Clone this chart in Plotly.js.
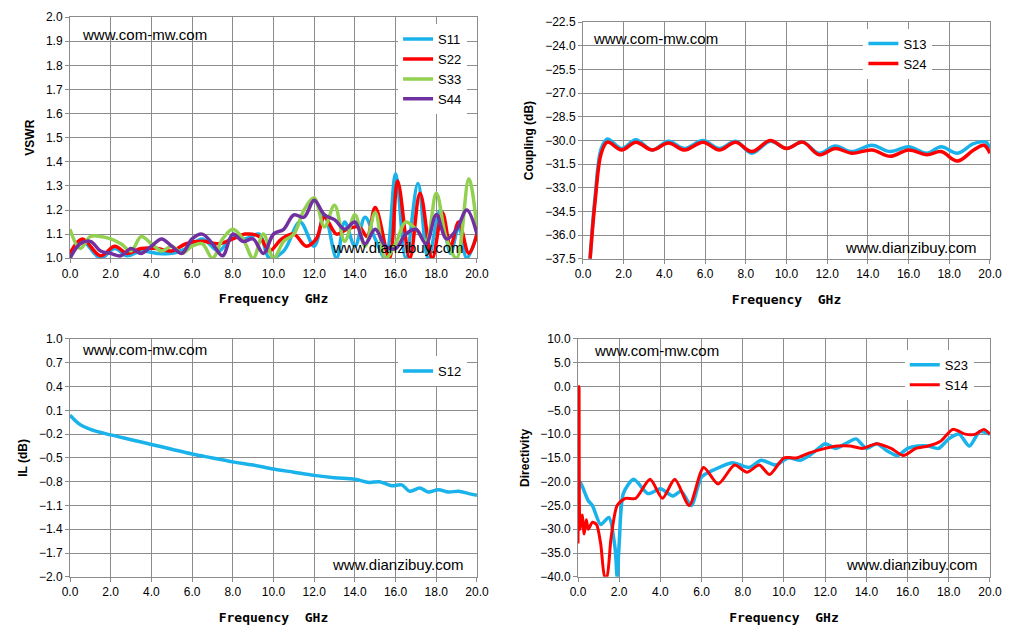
<!DOCTYPE html>
<html><head><meta charset="utf-8">
<script src="https://cdn.plot.ly/plotly-3.0.1.min.js"></script>
<style>body{margin:0}#plot{width:1034px;height:636px}</style>
</head><body><div id="plot"></div>
<script>
// VSWR panel
var s11X = [0,0.6,1.5,2.2,2.8,3.5,4.3,5,5.7,6.5,7.3,8,8.6,9.3,9.8,10.5,11.3,12,12.5,13.1,13.5,14,14.5,15,15.5,16,16.5,17.1,17.6,18.2,18.7,19.1,19.5,20];
var s11Y = [1.0,1.07,1.0,1.04,1.01,1.03,1.02,1.02,1.04,1.08,1.03,1.09,1.08,1.1,1.0,1.03,1.15,1.05,1.18,1.0,1.15,1.05,1.17,1.08,1.0,1.35,1.0,1.31,1.0,1.2,1.02,1.13,1.0,1.1];
var s22X = [0,0.6,1.5,2.2,2.8,3.5,4.3,5,5.7,6.5,7.3,8,8.6,9.3,9.8,10.4,11,11.6,12.1,12.5,13.1,13.6,14.2,14.6,15.0,15.7,16.1,16.7,17.2,17.8,18.3,18.7,19.1,19.6,20];
var s22Y = [1.02,1.08,1.01,1.05,1.02,1.04,1.04,1.03,1.06,1.07,1.06,1.08,1.1,1.09,1.03,1.08,1.1,1.05,1.08,1.17,1.1,1.12,1.13,1.09,1.21,1.0,1.32,1.0,1.27,1.0,1.19,1.05,1.15,1.02,1.1];
var s33X = [0,0.5,1,1.5,2,2.5,3,3.5,4,4.5,5,5.5,6,6.5,7,7.5,8,8.5,9,9.5,10,10.5,11,11.5,12,12.5,13,13.5,14,14.5,15,15.5,16,16.5,17,17.5,18,18.5,19,19.6,20];
var s33Y = [1.12,1.04,1.09,1.09,1.08,1.06,1.03,1.09,1.06,1.03,1.05,1.02,1.05,1.06,1.0,1.08,1.12,1.08,1.0,1.1,1.0,1.07,1.1,1.2,1.25,1.13,1.22,1.07,1.18,1.05,1.19,1.0,1.06,1.15,1.12,1.07,1.27,1.08,1.0,1.33,1.12];
var s44X = [0,0.5,1,1.5,2,2.5,3,3.5,4,4.5,5,5.5,6,6.5,7,7.5,8,8.5,9,9.5,10,10.5,11,11.5,12,12.5,13,13.5,14,14.5,15,15.5,16,16.5,17,17.5,18,18.5,19,19.5,20];
var s44Y = [1.0,1.06,1.07,1.03,1.02,1.01,1.04,1.02,1.05,1.08,1.05,1.02,1.08,1.1,1.06,1.01,1.1,1.07,1.08,1.02,1.1,1.12,1.18,1.17,1.24,1.18,1.16,1.12,1.15,1.06,1.12,1.05,1.04,1.1,1.12,1.06,1.18,1.08,1.12,1.2,1.1];

// Coupling panel
var s13X = [0.35,0.6,0.9,1.2,1.9,2.6,3.4,4.2,5.0,5.9,6.7,7.5,8.3,9.2,10.0,10.8,11.6,12.4,13.2,14.2,15.1,16.0,16.9,17.6,18.4,19.2,19.8,20];
var s13Y = [-37.5,-33.5,-30.5,-29.9,-30.5,-29.95,-30.6,-30.05,-30.5,-30.0,-30.5,-30.05,-30.8,-30.05,-30.5,-30.1,-30.8,-30.35,-30.7,-30.3,-30.7,-30.4,-30.8,-30.4,-30.8,-30.2,-30.1,-30.5];
var s24X = [0.35,0.6,0.9,1.2,1.9,2.6,3.4,4.2,5.0,5.9,6.7,7.5,8.3,9.2,10.0,10.8,11.6,12.4,13.2,14.2,15.1,16.0,16.9,17.6,18.4,19.2,19.7,20];
var s24Y = [-37.5,-33.8,-30.8,-30.1,-30.6,-30.1,-30.6,-30.15,-30.6,-30.1,-30.6,-30.1,-30.7,-30.0,-30.5,-30.1,-30.9,-30.5,-30.8,-30.6,-31.0,-30.6,-30.9,-30.7,-31.3,-30.6,-30.3,-30.8];

// Insertion loss panel
var s12X = [0,0.5,1,2,3,4,5,6,7,8,9,10,11,12,13,14,14.7,15.2,15.8,16.3,16.7,17.2,17.6,18.1,18.6,19.1,19.6,20];
var s12Y = [0.04,-0.08,-0.14,-0.21,-0.27,-0.33,-0.39,-0.45,-0.5,-0.55,-0.59,-0.64,-0.68,-0.72,-0.75,-0.77,-0.81,-0.8,-0.85,-0.84,-0.92,-0.88,-0.93,-0.9,-0.93,-0.92,-0.95,-0.97];

// Directivity panel
var s23X = [0,0.1,0.3,0.5,0.7,1.1,1.5,1.8,1.9,2.0,2.2,2.7,3.4,4.0,4.6,5.0,5.5,6.0,6.6,7.5,8.3,8.9,9.6,10.2,10.8,11.4,12.0,12.5,13.0,13.5,14.0,14.5,15.0,15.5,16.0,16.5,17.0,17.5,18.0,18.5,19.0,19.5,20];
var s23Y = [-23,-20,-22,-24,-25,-29,-27.5,-34,-40,-33,-22.5,-19.5,-22.5,-21.5,-23,-22,-25,-19,-17.5,-16,-17,-15.5,-16.5,-15,-15.5,-14,-12,-13,-12,-11,-13,-12,-13.5,-14.5,-13,-12.5,-12.5,-13,-11,-10,-12.5,-9.5,-10];
var s14X = [0,0.05,0.1,0.2,0.3,0.4,0.5,0.7,0.9,1.1,1.3,1.4,1.6,1.9,2.3,2.8,3.5,4.1,4.7,5.4,6.1,6.8,7.6,8.2,8.8,9.3,10.0,10.6,11.2,12.0,12.6,13.2,13.8,14.5,15.2,15.8,16.4,17.0,17.6,18.2,18.8,19.3,19.7,20];
var s14Y = [-33,0,-30,-27,-31,-28,-30,-28.5,-29,-33,-40,-40,-32,-25,-23.5,-23.5,-19.5,-23.5,-19.5,-25,-17,-20.5,-16.5,-18,-16.5,-18.5,-15,-15,-14,-13,-12.5,-12.5,-13,-12,-13,-14.5,-13,-12.5,-11.5,-9,-10,-10,-9,-10];

var BLUE = '#19b2ea', RED = '#ff0000', GREEN = '#92d050', PURPLE = '#7030a0';

function tr(x, y, name, color, xa, ya, leg, sm) {
  return {x: x, y: y, name: name, type: 'scatter', mode: 'lines',
    line: {color: color, width: 3.5, shape: 'spline', smoothing: sm || 1},
    xaxis: xa, yaxis: ya, legend: leg};
}

var data = [
  tr(s11X, s11Y, 'S11', BLUE, 'x', 'y', 'legend'),
  tr(s22X, s22Y, 'S22', RED, 'x', 'y', 'legend'),
  tr(s33X, s33Y, 'S33', GREEN, 'x', 'y', 'legend'),
  tr(s44X, s44Y, 'S44', PURPLE, 'x', 'y', 'legend'),
  tr(s13X, s13Y, 'S13', BLUE, 'x2', 'y2', 'legend2'),
  tr(s24X, s24Y, 'S24', RED, 'x2', 'y2', 'legend2'),
  tr(s12X, s12Y, 'S12', BLUE, 'x3', 'y3', 'legend3'),
  tr(s23X, s23Y, 'S23', BLUE, 'x4', 'y4', 'legend4', 0.7),
  tr(s14X, s14Y, 'S14', RED, 'x4', 'y4', 'legend4', 0.7)
];
data[8].line.width = 3;

var tickF = {family: 'Liberation Sans, Arial', size: 12, color: '#000'};
var xTitle = {text: 'Frequency  GHz', font: {family: 'DejaVu Sans Mono', size: 13, color: '#000', weight: 'bold'}, standoff: 14};

function xa(dom, anchor) {
  return {domain: dom, anchor: anchor, range: [0, 20], dtick: 2, tickformat: '.1f',
    showgrid: true, gridcolor: '#8c8c8c', linecolor: '#8c8c8c', mirror: true, showline: true,
    ticks: 'outside', ticklen: 4, tickcolor: '#8c8c8c', tickfont: tickF, zeroline: false, title: xTitle};
}
function ya(dom, anchor, r, dt, title) {
  return {domain: dom, anchor: anchor, range: r, dtick: dt, tick0: r[0], tickformat: '.1f',
    showgrid: true, gridcolor: '#8c8c8c', linecolor: '#8c8c8c', mirror: true, showline: true,
    ticks: 'outside', ticklen: 4, tickcolor: '#8c8c8c', tickfont: tickF, zeroline: false,
    title: {text: title, font: {family: 'Liberation Sans, Arial', size: 12, color: '#000', weight: 'bold'}, standoff: 8}};
}
function leg(x, y) {
  return {x: x, y: y, xanchor: 'left', yanchor: 'top', bgcolor: '#fff', borderwidth: 0,
    font: {family: 'Liberation Sans, Arial', size: 13, color: '#000'}, tracegroupgap: 0};
}
function note(text, x, y, xr, yr) {
  return {text: text, x: x, y: y, xref: xr, yref: yr, showarrow: false, xanchor: 'left', yanchor: 'middle',
    font: {family: 'Liberation Sans, Arial', size: 15, color: '#000'}};
}

var layout = {
  width: 1034, height: 636, margin: {l: 0, r: 0, t: 0, b: 0},
  paper_bgcolor: '#fff', plot_bgcolor: '#fff', showlegend: true,
  xaxis: xa([0.0677, 0.4613], 'y'),
  yaxis: ya([0.594, 0.973], 'x', [1.0, 2.0], 0.1, 'VSWR'),
  xaxis2: xa([0.5638, 0.9574], 'y2'),
  yaxis2: ya([0.593, 0.965], 'x2', [-37.5, -22.5], 1.5, 'Coupling (dB)'),
  xaxis3: xa([0.0677, 0.4613], 'y3'),
  yaxis3: ya([0.093, 0.467], 'x3', [-2.0, 1.0], 0.3, 'IL (dB)'),
  xaxis4: xa([0.559, 0.9574], 'y4'),
  yaxis4: ya([0.093, 0.467], 'x4', [-40, 10], 5, 'Directivity'),
  legend: leg(0.385, 0.962),
  legend2: leg(0.835, 0.955),
  legend3: leg(0.385, 0.44),
  legend4: leg(0.875, 0.45),
  annotations: [
    note('www.com-mw.com', 0.5, 1.93, 'x', 'y'),
    note('www.dianzibuy.com', 12.8, 1.045, 'x', 'y'),
    note('www.com-mw.com', 0.4, -23.5, 'x2', 'y2'),
    note('www.dianzibuy.com', 12.8, -36.8, 'x2', 'y2'),
    note('www.com-mw.com', 0.5, 0.87, 'x3', 'y3'),
    note('www.dianzibuy.com', 12.8, -1.85, 'x3', 'y3'),
    note('www.com-mw.com', 0.7, 7.5, 'x4', 'y4'),
    note('www.dianzibuy.com', 12.9, -37.5, 'x4', 'y4')
  ]
};

Plotly.newPlot('plot', data, layout, {staticPlot: true});
</script></body></html>
